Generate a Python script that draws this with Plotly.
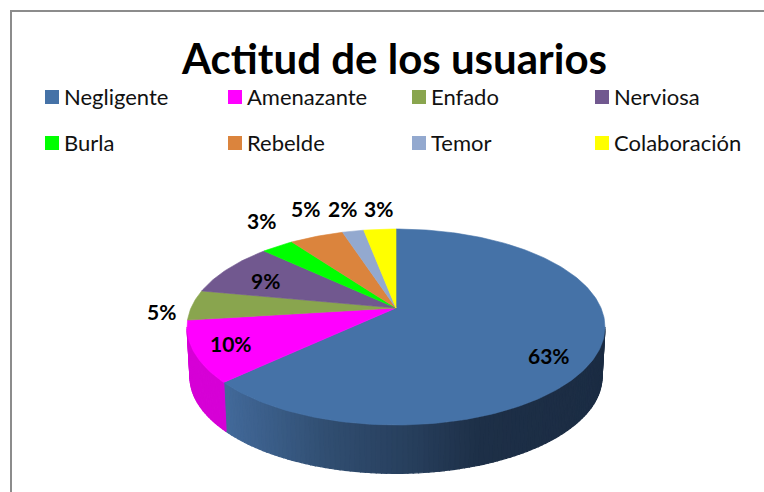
import math
import plotly.graph_objects as go

# ---- data ----
categories = ["Negligente", "Amenazante", "Enfado", "Nerviosa", "Burla", "Rebelde", "Temor", "Colaboración"]
values = [63, 10, 5, 9, 3, 5, 2, 3]
colors = ["#4572A7", "#FF00FF", "#89A54E", "#71588F", "#00FF00", "#DB843D", "#93A9CF", "#FFFF00"]
title = "Actitud de los usuarios"

# ---- layout constants ----
W, H = 764, 492
FONT = "Lato"
CX, CY = 396, 308          # pie centre on the page
A, B, K = 205, 94.3, 0.194  # perspective projection of the disc
DEPTH, BOTTOM_SCALE = 50, 0.986
label_xy = [(549, 355), (231, 343), (161, 311), (265, 280), (261, 220), (305, 208), (342, 208), (378, 208)]
legend_x = [45, 228, 412, 595]
legend_y = [97, 143]
wall_stops = [(220, (0x43, 0x6B, 0x9C)), (330, (0x30, 0x4D, 0x70)), (420, (0x26, 0x3D, 0x5A)),
              (480, (0x1D, 0x2F, 0x47)), (610, (0x1B, 0x2C, 0x43))]
MAGENTA_WALL = "#D600D6"


def rim(theta, bottom=False):
    s, c = math.sin(theta), math.cos(theta)
    w = 1 + K * c
    x, y = A * s / w, -B * c / w
    if bottom:
        return CX + x * BOTTOM_SCALE, CY + DEPTH + y * BOTTOM_SCALE
    return CX + x, CY + y


def wall_color(x):
    for (x0, c0), (x1, c1) in zip(wall_stops, wall_stops[1:]):
        if x <= x1:
            t = max(0, (x - x0) / (x1 - x0))
            return "rgb(%d,%d,%d)" % tuple(round(a + (b - a) * t) for a, b in zip(c0, c1))
    return "rgb(%d,%d,%d)" % wall_stops[-1][1]


total = sum(values)
edges = [0]
for v in values:
    edges.append(edges[-1] + v / total * 2 * math.pi)

fig = go.Figure()


def poly(xs, ys, color, lw=0.6):
    fig.add_trace(go.Scatter(x=xs, y=ys, mode="lines", fill="toself", fillcolor=color,
                             line=dict(color=color, width=lw), hoverinfo="skip", showlegend=False))


# visible side wall, between the two silhouette tangents
start, stop = math.acos(-K), 2 * math.pi - math.acos(-K)
for i in range(len(values)):
    lo, hi = max(edges[i], start), min(edges[i + 1], stop)
    if hi <= lo:
        continue
    n = max(1, int((hi - lo) / math.radians(1.2)))
    for j in range(n - 1, -1, -1) if i == 0 else range(n):
        a, b = lo + (hi - lo) * j / n, lo + (hi - lo) * (j + 1) / n
        p = [rim(a), rim(b), rim(b, True), rim(a, True)]
        col = wall_color((p[0][0] + p[1][0]) / 2) if i == 0 else MAGENTA_WALL
        poly([q[0] for q in p] + [p[0][0]], [q[1] for q in p] + [p[0][1]], col, lw=1.2)

# top face
for i, c in enumerate(colors):
    n = max(2, int((edges[i + 1] - edges[i]) / math.radians(1)))
    pts = [(CX, CY)] + [rim(edges[i] + (edges[i + 1] - edges[i]) * j / n) for j in range(n + 1)] + [(CX, CY)]
    poly([p[0] for p in pts], [p[1] for p in pts], c)

# legend swatches
lx = [legend_x[i % 4] for i in range(8)]
ly = [legend_y[i // 4] for i in range(8)]
fig.add_trace(go.Scatter(x=[v + 7 for v in lx], y=ly, mode="markers", hoverinfo="skip", showlegend=False,
                         marker=dict(symbol="square", size=14, color=colors, line=dict(width=0))))

ann = [dict(x=394, y=58, text=f"<b>{title}</b>", showarrow=False, font=dict(family=FONT, size=42, color="black"))]
for name, x, y in zip(categories, lx, ly):
    ann.append(dict(x=x + 17, y=y - 1, text=name, xanchor="left", showarrow=False,
                    font=dict(family=FONT, size=22, color="#111111")))
for v, (x, y) in zip(values, label_xy):
    ann.append(dict(x=x, y=y, text=f"<b>{v}%</b>", showarrow=False, font=dict(family=FONT, size=21, color="black")))

frame = dict(color="#8C8C8C", width=2)
fig.update_layout(
    width=W, height=H, autosize=False, margin=dict(l=0, r=0, t=0, b=0),
    paper_bgcolor="white", plot_bgcolor="white", showlegend=False,
    xaxis=dict(range=[0, W], visible=False, fixedrange=True),
    yaxis=dict(range=[H, 0], visible=False, fixedrange=True),
    annotations=ann,
    shapes=[dict(type="line", x0=11, x1=11, y0=10, y1=H, line=frame),
            dict(type="line", x0=10, x1=W, y0=11, y1=11, line=frame)],
)
fig.write_html("out.html", config={"displayModeBar": False},
               post_script="document.body.style.margin='0';document.documentElement.style.overflow='hidden';")
